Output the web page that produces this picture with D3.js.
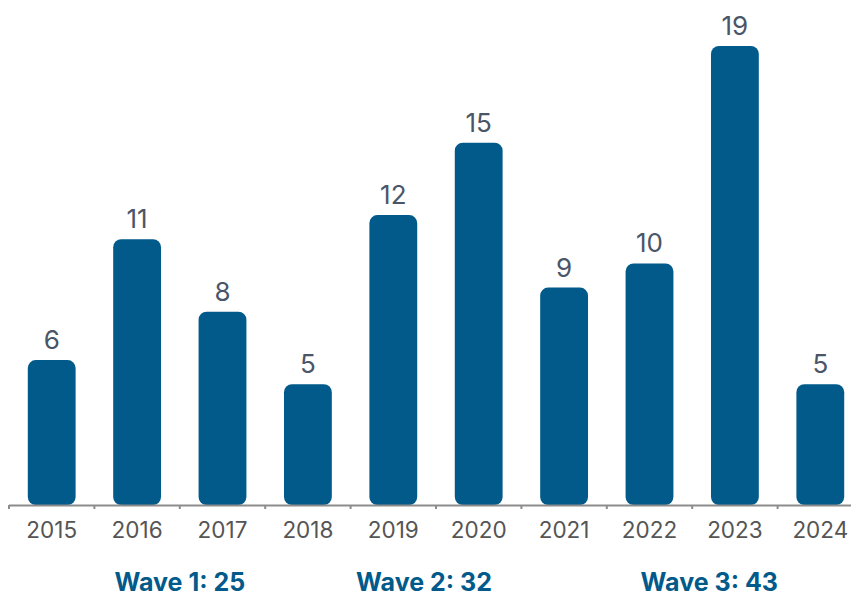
<!DOCTYPE html>
<html>
<head>
<meta charset="utf-8">
<script src="https://cdn.jsdelivr.net/npm/d3@7"></script>
<style>
  body { margin: 0; background: #fff; }
  svg { display: block; font-family: Inter, "Noto Sans", sans-serif; }
</style>
</head>
<body>
<svg></svg>
<script>
const width = 851,
      height = 598

const years = ["2015", "2016", "2017", "2018", "2019", "2020", "2021", "2022", "2023", "2024"]
const counts = [6, 11, 8, 5, 12, 15, 9, 10, 19, 5]

// wave annotations: label and position along the band axis (in band steps)
const waveLabels = ["Wave 1: 25", "Wave 2: 32", "Wave 3: 43"]
const wavePos = [2.0, 4.86, 8.2]

const barColor = "#015a8a"

const svg = d3.select("svg")
  .attr("width", width)
  .attr("height", height)

const baseY = 505

const x = d3.scaleBand()
  .domain(years)
  .range([9, 863])
  .paddingInner(0.44)
  .paddingOuter(0.22)

const y = d3.scaleLinear()
  .domain([0, 19])
  .range([baseY, 46])

const step = x.step()

// bars
svg.selectAll("rect.bar")
  .data(years)
  .enter().append("rect")
    .classed("bar", true)
    .attr("x", d => x(d))
    .attr("y", (d, i) => y(counts[i]))
    .attr("width", x.bandwidth())
    .attr("height", (d, i) => baseY - y(counts[i]))
    .attr("rx", 8)
    .style("fill", barColor)

// axis line + ticks
svg.append("line")
  .attr("x1", 9).attr("x2", width)
  .attr("y1", baseY + 0.5).attr("y2", baseY + 0.5)
  .style("stroke", "#8c8c8c")
  .style("stroke-width", 2)

svg.selectAll("line.tick")
  .data(d3.range(years.length + 1))
  .enter().append("line")
    .classed("tick", true)
    .attr("x1", i => 9 + i * step).attr("x2", i => 9 + i * step)
    .attr("y1", baseY).attr("y2", baseY + 4)
    .style("stroke", "#8c8c8c")
    .style("stroke-width", 2)

// value labels
svg.selectAll("text.value")
  .data(years)
  .enter().append("text")
    .classed("value", true)
    .attr("x", d => x(d) + x.bandwidth() / 2)
    .attr("y", (d, i) => y(counts[i]) - 11)
    .attr("text-anchor", "middle")
    .style("font-size", "26px")
    .style("fill", "#4a5568")
    .text((d, i) => counts[i])

// year labels
svg.selectAll("text.year")
  .data(years)
  .enter().append("text")
    .classed("year", true)
    .attr("x", d => x(d) + x.bandwidth() / 2)
    .attr("y", 538)
    .attr("text-anchor", "middle")
    .style("font-size", "22.5px")
    .style("fill", "#555")
    .text(d => d)

// wave labels
svg.selectAll("text.wave")
  .data(waveLabels)
  .enter().append("text")
    .classed("wave", true)
    .attr("x", (d, i) => 9 + wavePos[i] * step)
    .attr("y", 591)
    .attr("text-anchor", "middle")
    .style("font-size", "25px")
    .style("font-weight", "bold")
    .style("fill", barColor)
    .text(d => d)
</script>
</body>
</html>
